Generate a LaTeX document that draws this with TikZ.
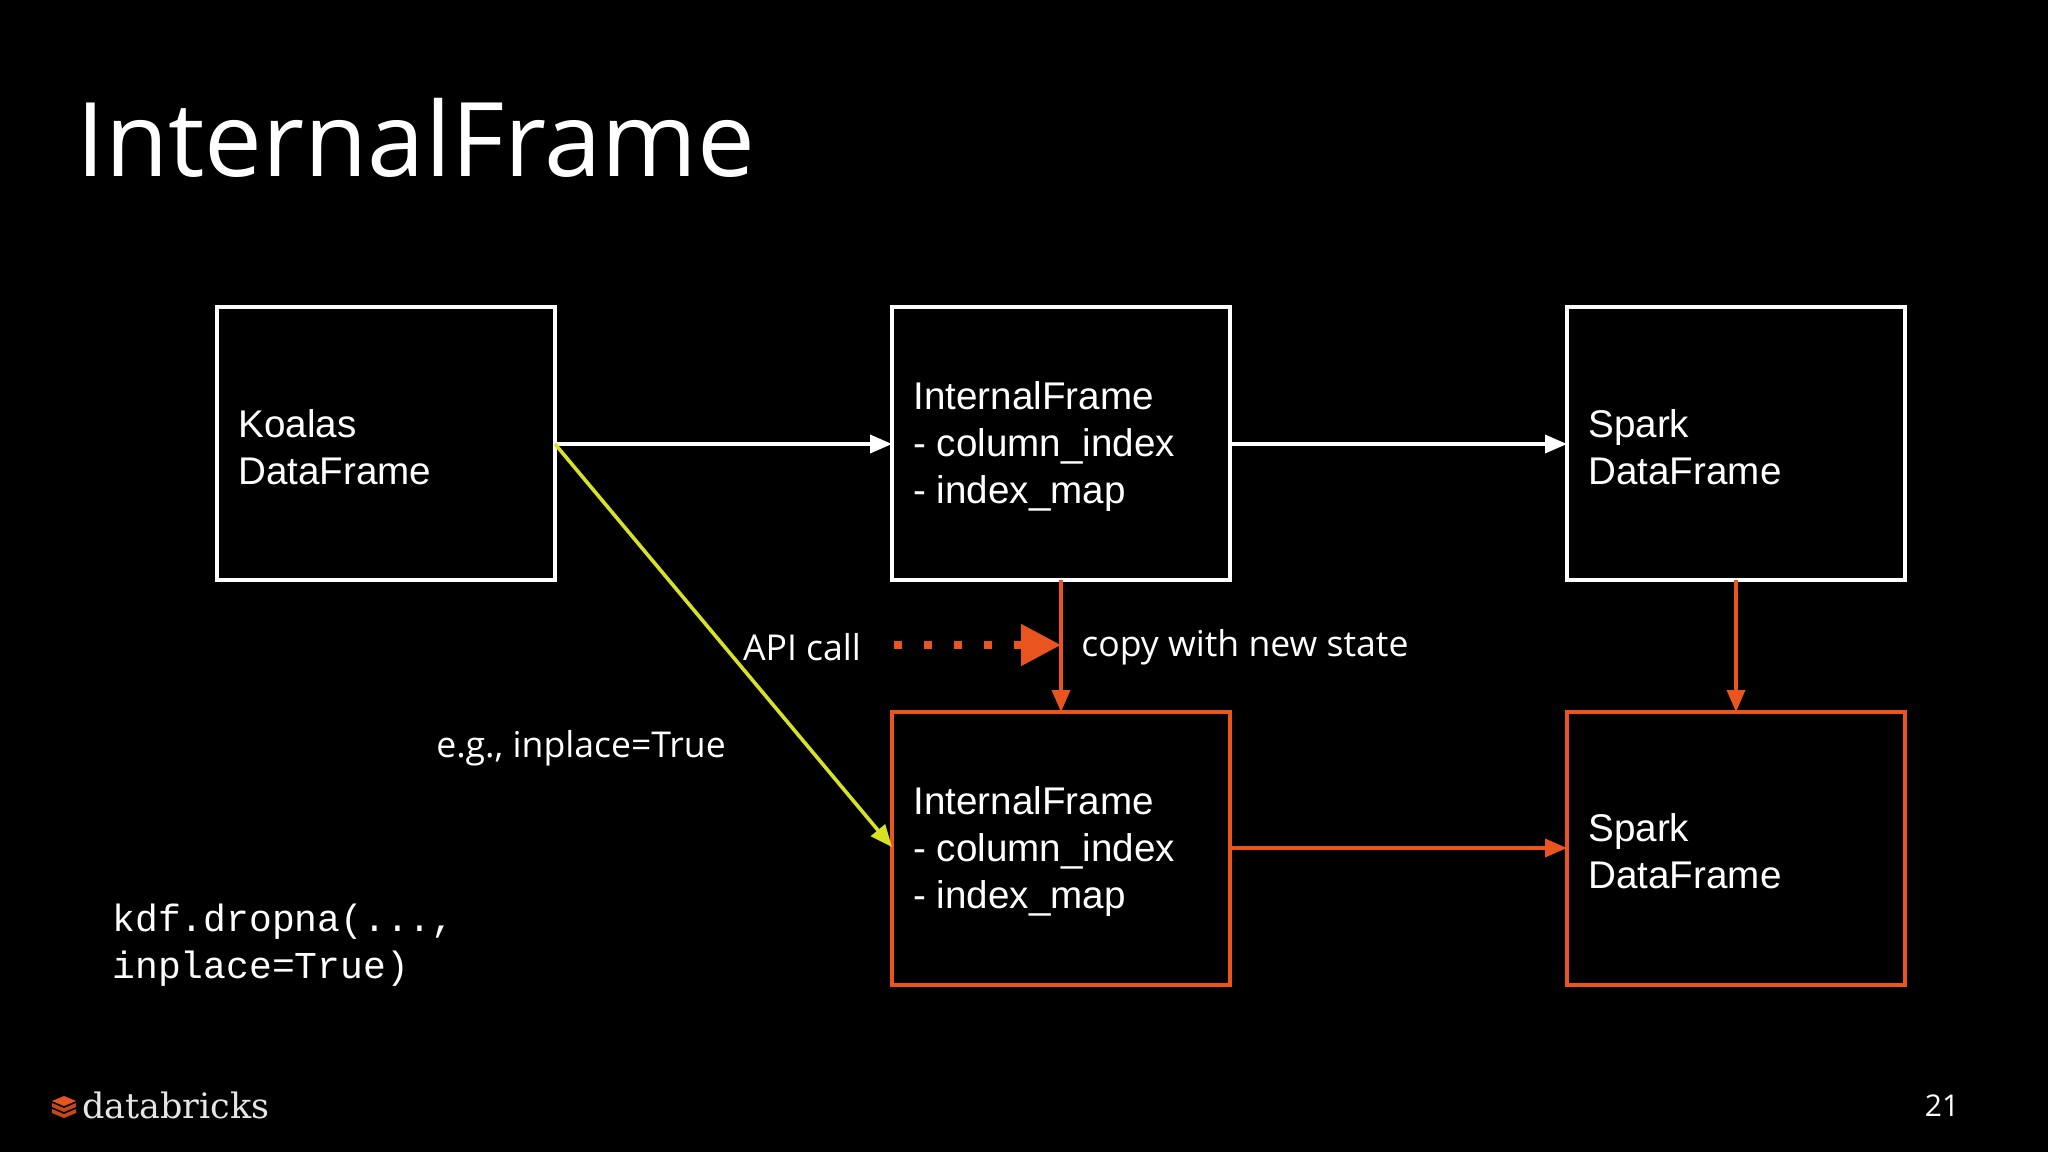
\documentclass[tikz,border=0pt]{standalone}
\usepackage{fontspec}
\setmainfont{Open Sans}
\newfontfamily\boxf{Liberation Sans}
\newfontfamily\codef{Liberation Mono}
\newfontfamily\logof{DejaVu Serif}
\usetikzlibrary{arrows.meta}
\definecolor{org}{HTML}{E9541F}
\definecolor{yel}{HTML}{D6E324}
\begin{document}
\begin{tikzpicture}[x=0.5pt,y=-0.5pt,
  box/.style={draw=white,line width=2.2pt},
  obox/.style={draw=org,line width=2.2pt},
  btxt/.style={text=white,anchor=west,align=left,font=\boxf\fontsize{19.3}{23.5}\selectfont,inner sep=0},
  lbl/.style={text=white,font=\fontsize{17.8}{20}\selectfont,inner sep=0},
  arr/.style={line width=1.8pt,-{Triangle[length=11pt,width=9pt]}}]
\fill[black] (0,0) rectangle (2048,1152);
\useasboundingbox (0,0) rectangle (2048,1152);
\node[text=white,anchor=base west,inner sep=0,font=\fontsize{51.5}{60}\selectfont] (title) at (76,176) {InternalFrame};
% boxes
\draw[box] (217,307) rectangle (555,580);
\draw[box] (892,307) rectangle (1230,580);
\draw[box] (1567,307) rectangle (1905,580);
\draw[obox] (892,712) rectangle (1230,985);
\draw[obox] (1567,712) rectangle (1905,985);
\coordinate (kR) at (555,444); \coordinate (i1L) at (892,444); \coordinate (i1R) at (1230,444);
\coordinate (s1L) at (1567,444); \coordinate (i1B) at (1061,580); \coordinate (i2T) at (1061,712);
\coordinate (s1B) at (1736,580); \coordinate (s2T) at (1736,712);
\coordinate (i2L) at (892,847); \coordinate (i2R) at (1230,848); \coordinate (s2L) at (1567,848);
\node[btxt] (k) at (238,447) {Koalas\\DataFrame};
\node[btxt] (i1) at (913,447) {InternalFrame\\- column\_index\\- index\_map};
\node[btxt] (s1) at (1588,447) {Spark\\DataFrame};
\node[btxt] (i2) at (913,851) {InternalFrame\\- column\_index\\- index\_map};
\node[btxt] (s2) at (1588,851) {Spark\\DataFrame};
% connectors
\draw[arr,white] (kR) -- (i1L);
\draw[arr,white] (i1R) -- (s1L);
\draw[arr,yel] (kR) -- (i2L);
\draw[arr,org] (i1B) -- (i2T);
\draw[arr,org] (s1B) -- (s2T);
\draw[arr,org] (i2R) -- (s2L);
\coordinate (d0) at (894,645); \coordinate (d1) at (1061,645);
\draw[org,line width=4pt,dash pattern=on 4pt off 11pt,-{Triangle[length=20pt,width=20pt]}] (d0) -- (d1);
\node[lbl] (api) at (802,647) {API call};
\node[lbl,anchor=west] (copy) at (1081,647) {copy with new state};
\node[lbl] (eg) at (581,748) {e.g., inplace=True};
\node[text=white,anchor=west,align=left,inner sep=0,font=\codef\fontsize{19}{23.5}\selectfont] (code) at (112,945) {kdf.dropna(...,\\inplace=True)};
% logo
\fill[org] (52,1101) -- (64,1096) -- (76,1101) -- (64,1106) -- cycle;
\fill[org!85!black] (52,1103) -- (64,1108) -- (76,1103) -- (76,1107) -- (64,1112) -- (52,1107) -- cycle;
\fill[org!85!black] (52,1109) -- (64,1114) -- (76,1109) -- (76,1113) -- (64,1118) -- (52,1113) -- cycle;
\node[text=white!90!black,anchor=west,inner sep=0,font=\logof\fontsize{17.5}{20}\selectfont] (logo) at (82,1105) {databricks};
\node[text=white,inner sep=0,font=\fontsize{15}{16}\selectfont] (pg) at (1942,1106) {21};
\end{tikzpicture}
\end{document}
